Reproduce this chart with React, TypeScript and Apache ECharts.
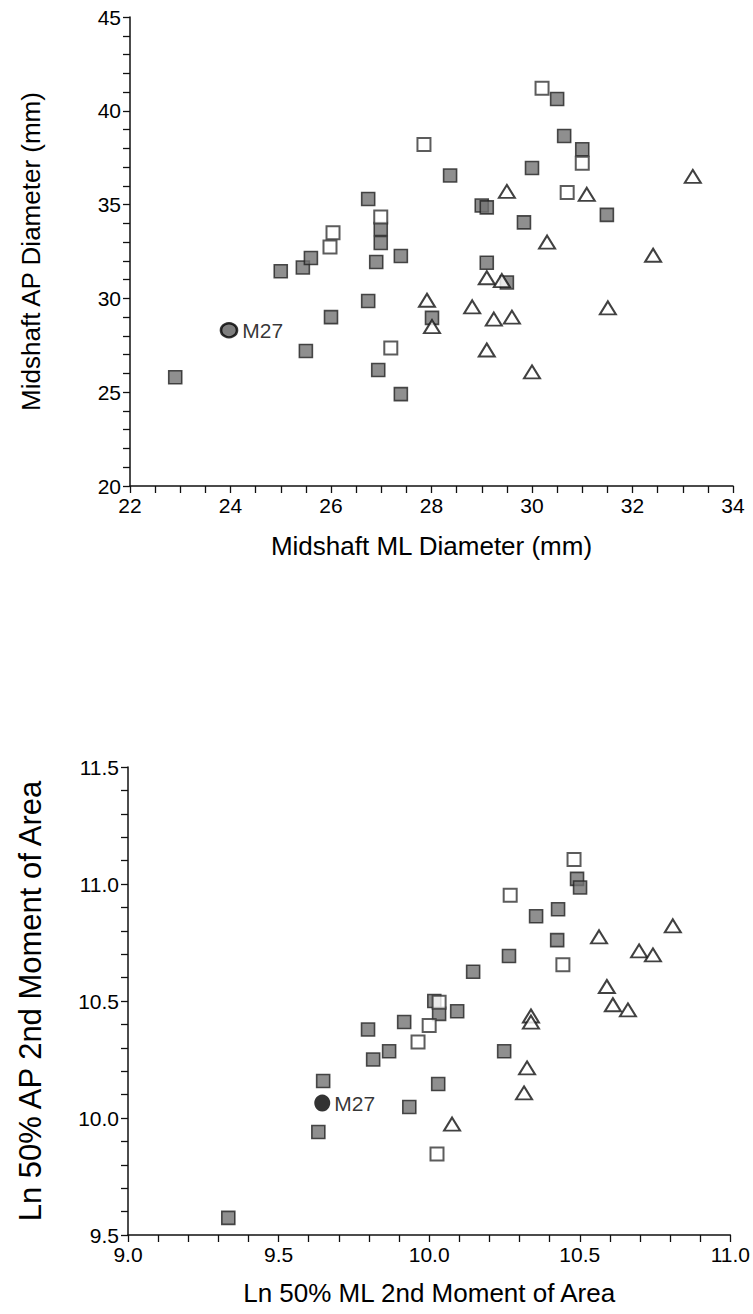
import React, { useEffect, useRef } from "react";
import * as echarts from "echarts";

// ---- Top chart: Midshaft diameters (mm) ----
const topGray: [number, number][] = [
  [22.9, 25.8], [26.0, 29.0], [26.74, 29.86], [25.5, 27.2], [26.94, 26.18],
  [27.39, 24.9], [25.0, 31.45], [25.44, 31.65], [25.6, 32.15], [26.74, 35.3],
  [26.99, 33.7], [26.99, 32.95], [26.9, 31.94], [27.39, 32.26], [28.37, 36.55],
  [30.5, 40.63], [30.64, 38.66], [31.0, 37.95], [30.0, 36.95], [29.0, 34.95],
  [29.1, 34.85], [31.49, 34.45], [29.84, 34.05], [29.1, 31.9], [29.5, 30.85],
  [28.01, 28.96],
];
const topOpen: [number, number][] = [
  [30.2, 41.2], [27.85, 38.2], [31.0, 37.2], [30.7, 35.65], [26.99, 34.34],
  [26.04, 33.5], [25.98, 32.74], [27.19, 27.36],
];
const topTri: [number, number][] = [
  [33.2, 36.5], [29.5, 35.7], [31.09, 35.55], [30.3, 33.0], [32.41, 32.3],
  [29.1, 31.1], [29.4, 30.95], [27.91, 29.9], [28.81, 29.55], [31.51, 29.5],
  [28.01, 28.5], [29.24, 28.9], [29.6, 29.0], [29.1, 27.25], [30.0, 26.08],
];
const topM27: [number, number][] = [[23.97, 28.3]];

// ---- Bottom chart: Ln 50% 2nd moments of area ----
const botGray: [number, number][] = [
  [9.333, 9.573], [9.632, 9.94], [9.648, 10.158], [9.934, 10.047], [10.03, 10.145],
  [9.814, 10.25], [9.867, 10.285], [9.797, 10.378], [9.917, 10.41], [10.033, 10.445],
  [10.017, 10.5], [10.093, 10.456], [10.249, 10.285], [10.491, 11.022], [10.501, 10.985],
  [10.428, 10.892], [10.355, 10.862], [10.425, 10.76], [10.265, 10.692], [10.146, 10.625],
];
const botOpen: [number, number][] = [
  [10.026, 9.846], [9.963, 10.325], [10.0, 10.395], [10.033, 10.495], [10.481, 11.105],
  [10.269, 10.952], [10.444, 10.655],
];
const botTri: [number, number][] = [
  [10.076, 9.974], [10.338, 10.436], [10.338, 10.41], [10.325, 10.214], [10.315, 10.107],
  [10.59, 10.562], [10.61, 10.484], [10.66, 10.462], [10.564, 10.774], [10.809, 10.821],
  [10.697, 10.714], [10.743, 10.697],
];
const botM27: [number, number][] = [[9.645, 10.064]];

const topXTicks = { min: 22, max: 34, interval: 2 };
const topYTicks = { min: 20, max: 45, interval: 5 };
const botXTicks = { min: 9.0, max: 11.0, interval: 0.5 };
const botYTicks = { min: 9.5, max: 11.5, interval: 0.5 };

const FONT = "Liberation Sans, Arial, sans-serif";
const AX = "#111111";

function axisCommon(minorSplit: number, labelFmt?: (v: number) => string) {
  return {
    type: "value" as const,
    axisLine: { show: true, onZero: false, lineStyle: { color: AX, width: 1.5 } },
    axisTick: { show: true, inside: false, length: 7, lineStyle: { color: AX, width: 1.3 } },
    minorTick: { show: true, splitNumber: minorSplit, length: 7, lineStyle: { color: AX, width: 1.3 } },
    splitLine: { show: false },
    minorSplitLine: { show: false },
    axisLabel: {
      color: "#000000",
      fontSize: 21,
      fontFamily: FONT,
      margin: 9,
      formatter: labelFmt,
    },
    nameLocation: "middle" as const,
    nameTextStyle: { color: "#000", fontFamily: FONT },
  };
}

const grayStyle = { color: "#737373", borderColor: "#222222", borderWidth: 1.6 };
const openStyle = { color: "#ffffff", borderColor: "#333333", borderWidth: 2 };
const triStyle = { color: "#ffffff", borderColor: "#111111", borderWidth: 2 };

export default function App() {
  const ref = useRef<HTMLDivElement>(null);
  useEffect(() => {
    if (!ref.current) return;
    const chart = echarts.init(ref.current, undefined, { renderer: "svg" });
    const fmt1 = (v: number) => v.toFixed(1);
    chart.setOption({
      animation: false,
      backgroundColor: "#ffffff",
      grid: [
        { left: 130, top: 17, width: 603, height: 469 },
        { left: 128, top: 767, width: 603, height: 468 },
      ],
      xAxis: [
        {
          ...axisCommon(4),
          gridIndex: 0,
          ...topXTicks,
          name: "Midshaft ML Diameter (mm)",
          nameGap: 47,
          nameTextStyle: { color: "#000", fontFamily: FONT, fontSize: 26 },
        },
        {
          ...axisCommon(5, fmt1),
          gridIndex: 1,
          ...botXTicks,
          name: "Ln 50% ML 2nd Moment of Area",
          nameGap: 45,
          nameTextStyle: { color: "#000", fontFamily: FONT, fontSize: 26 },
        },
      ],
      yAxis: [
        {
          ...axisCommon(5),
          gridIndex: 0,
          ...topYTicks,
          name: "Midshaft AP Diameter (mm)",
          nameGap: 86,
          nameRotate: 90,
          nameTextStyle: { color: "#000", fontFamily: FONT, fontSize: 26 },
        },
        {
          ...axisCommon(5, fmt1),
          gridIndex: 1,
          ...botYTicks,
          name: "Ln 50% AP 2nd Moment of Area",
          nameGap: 82,
          nameRotate: 90,
          nameTextStyle: { color: "#000", fontFamily: FONT, fontSize: 31 },
        },
      ],
      series: [
        { type: "scatter", xAxisIndex: 0, yAxisIndex: 0, data: topGray, symbol: "rect", symbolSize: [13, 13], itemStyle: grayStyle },
        { type: "scatter", xAxisIndex: 0, yAxisIndex: 0, data: topOpen, symbol: "rect", symbolSize: [13, 13], itemStyle: openStyle },
        { type: "scatter", xAxisIndex: 0, yAxisIndex: 0, data: topTri, symbol: "triangle", symbolSize: [16, 13], itemStyle: triStyle },
        {
          type: "scatter", xAxisIndex: 0, yAxisIndex: 0, data: topM27, symbol: "circle", symbolSize: [16, 14],
          itemStyle: { color: "#5e5e5e", borderColor: "#000000", borderWidth: 2.5 },
          label: { show: true, position: "right", distance: 4, formatter: "M27", fontSize: 21, fontFamily: FONT, color: "#000" },
        },
        { type: "scatter", xAxisIndex: 1, yAxisIndex: 1, data: botGray, symbol: "rect", symbolSize: [13, 13], itemStyle: grayStyle },
        { type: "scatter", xAxisIndex: 1, yAxisIndex: 1, data: botOpen, symbol: "rect", symbolSize: [13, 13], itemStyle: openStyle },
        { type: "scatter", xAxisIndex: 1, yAxisIndex: 1, data: botTri, symbol: "triangle", symbolSize: [16, 13], itemStyle: triStyle },
        {
          type: "scatter", xAxisIndex: 1, yAxisIndex: 1, data: botM27, symbol: "circle", symbolSize: [16, 17],
          itemStyle: { color: "#000000", borderColor: "#000000", borderWidth: 0 },
          label: { show: true, position: "right", distance: 4, formatter: "M27", fontSize: 21, fontFamily: FONT, color: "#000" },
        },
      ],
    });
    return () => chart.dispose();
  }, []);
  return (
    <div
      ref={ref}
      style={{ position: "absolute", left: 0, top: 0, width: 753, height: 1314, background: "#fff" }}
    />
  );
}
